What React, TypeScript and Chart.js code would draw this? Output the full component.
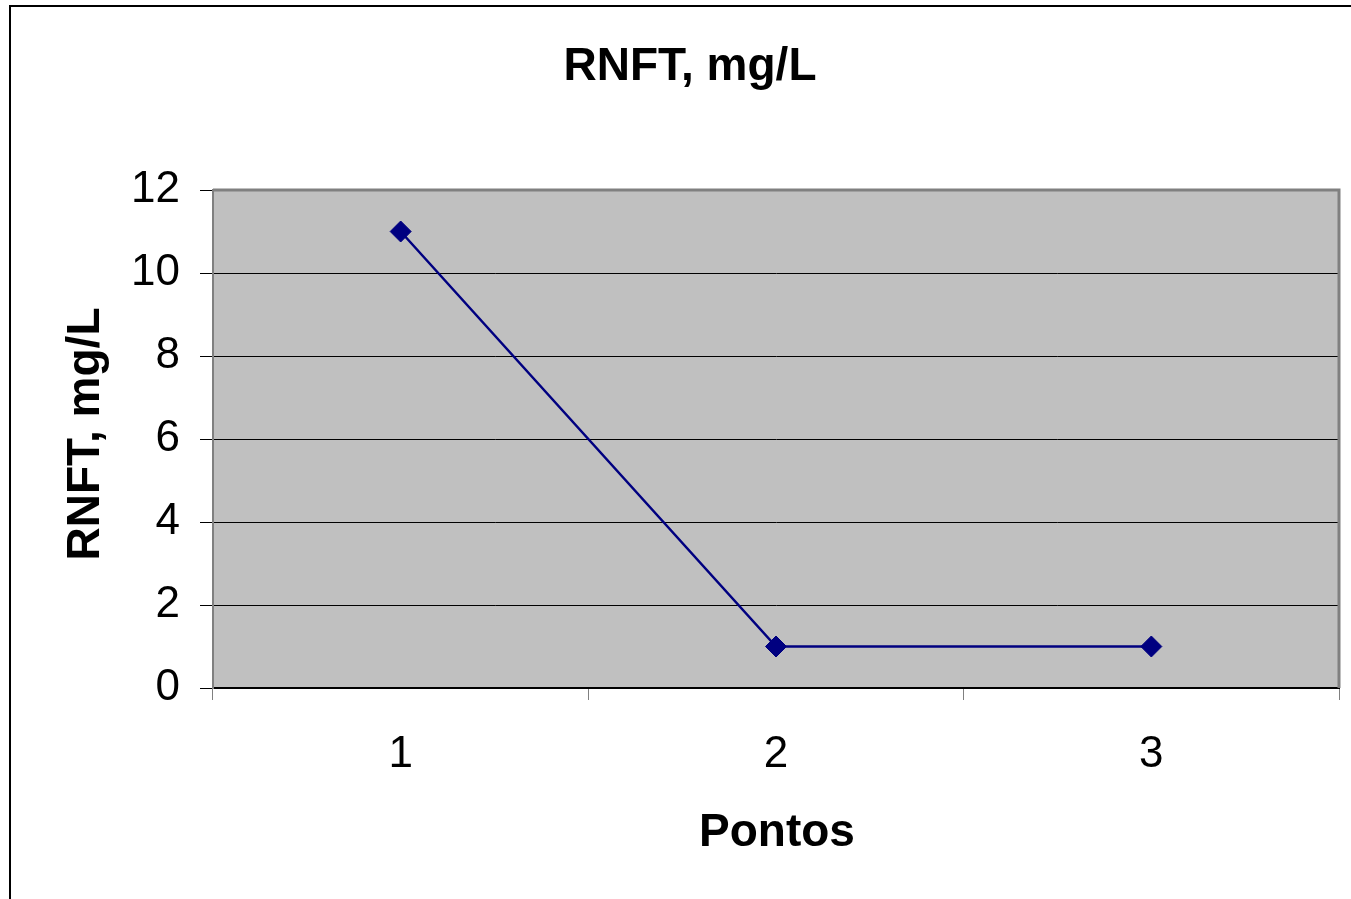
import React, { useEffect, useRef } from "react";
import { Chart, registerables } from "chart.js";

Chart.register(...registerables);

const categories = ["1", "2", "3"];
const rnftValues = [11, 1, 1];
const chartTitle = "RNFT, mg/L";
const yAxisTitle = "RNFT, mg/L";
const xAxisTitle = "Pontos";

const FONT = "'Liberation Sans', Arial, Helvetica, sans-serif";

const decorPlugin = {
  id: "decor",
  beforeDraw(chart: any) {
    const { ctx, chartArea } = chart;
    ctx.save();
    ctx.fillStyle = "#ffffff";
    ctx.fillRect(0, 0, chart.width, chart.height);
    // outer frame
    ctx.strokeStyle = "#000000";
    ctx.lineWidth = 2;
    ctx.strokeRect(10, 6, chart.width + 20, chart.height + 20);
    // plot background
    ctx.fillStyle = "#C0C0C0";
    ctx.fillRect(chartArea.left, chartArea.top, chartArea.right - chartArea.left, chartArea.bottom - chartArea.top);
    ctx.restore();
  },
  beforeDatasetsDraw(chart: any) {
    const { ctx, chartArea } = chart;
    ctx.save();
    ctx.strokeStyle = "#808080";
    ctx.lineWidth = 3;
    ctx.beginPath();
    ctx.moveTo(chartArea.left, chartArea.top);
    ctx.lineTo(chartArea.right, chartArea.top);
    ctx.lineTo(chartArea.right, chartArea.bottom);
    ctx.stroke();
    ctx.restore();
  },
  afterDraw(chart: any) {
    const { ctx, chartArea } = chart;
    ctx.save();
    ctx.fillStyle = "#000000";
    ctx.font = `bold 46px ${FONT}`;
    ctx.textAlign = "center";
    ctx.textBaseline = "alphabetic";
    ctx.fillText(chartTitle, 690, 80);
    ctx.fillText(xAxisTitle, 777, 846);
    ctx.translate(99, (chartArea.top + chartArea.bottom) / 2 - 5);
    ctx.rotate(-Math.PI / 2);
    ctx.fillText(yAxisTitle, 0, 0);
    ctx.restore();
  },
};

export default function App() {
  const ref = useRef<HTMLCanvasElement | null>(null);
  useEffect(() => {
    if (!ref.current) return;
    const chart = new Chart(ref.current, {
      type: "line",
      data: {
        labels: categories,
        datasets: [
          {
            label: "RNFT",
            data: rnftValues,
            borderColor: "#000080",
            backgroundColor: "#000080",
            borderWidth: 2.5,
            pointStyle: "rectRot",
            pointRadius: 10.5,
            pointBorderWidth: 1,
            pointBackgroundColor: "#000080",
            pointBorderColor: "#000080",
            tension: 0,
          },
        ],
      },
      options: {
        animation: false,
        responsive: false,
        maintainAspectRatio: false,
        layout: { padding: { top: 190, right: 12, left: 0, bottom: 0 } },
        plugins: {
          legend: { display: false },
          title: { display: false },
          tooltip: { enabled: false },
        },
        scales: {
          x: {
            type: "category",
            offset: true,
            afterFit: (s: any) => {
              s.height = 211;
            },
            grid: {
              offset: true,
              drawOnChartArea: false,
              drawTicks: true,
              tickLength: 12,
              color: "#808080",
              lineWidth: 1,
            },
            border: { display: true, color: "#000000", width: 2 },
            ticks: {
              color: "#000000",
              font: { family: FONT, size: 44 },
              padding: 28,
              maxRotation: 0,
            },
          },
          y: {
            min: 0,
            max: 12,
            afterFit: (s: any) => {
              s.width = 213;
            },
            grid: {
              color: "#000000",
              lineWidth: 1,
              drawTicks: true,
              tickLength: 13,
            },
            border: { display: true, color: "#808080", width: 2 },
            ticks: {
              stepSize: 2,
              color: "#000000",
              font: { family: FONT, size: 44 },
              padding: 20,
            },
          },
        },
      },
      plugins: [decorPlugin],
    });
    return () => chart.destroy();
  }, []);
  return (
    <div style={{ position: "fixed", left: 0, top: 0, width: 1351, height: 899 }}>
      <canvas ref={ref} width={1351} height={899} style={{ display: "block", width: 1351, height: 899 }} />
    </div>
  );
}
